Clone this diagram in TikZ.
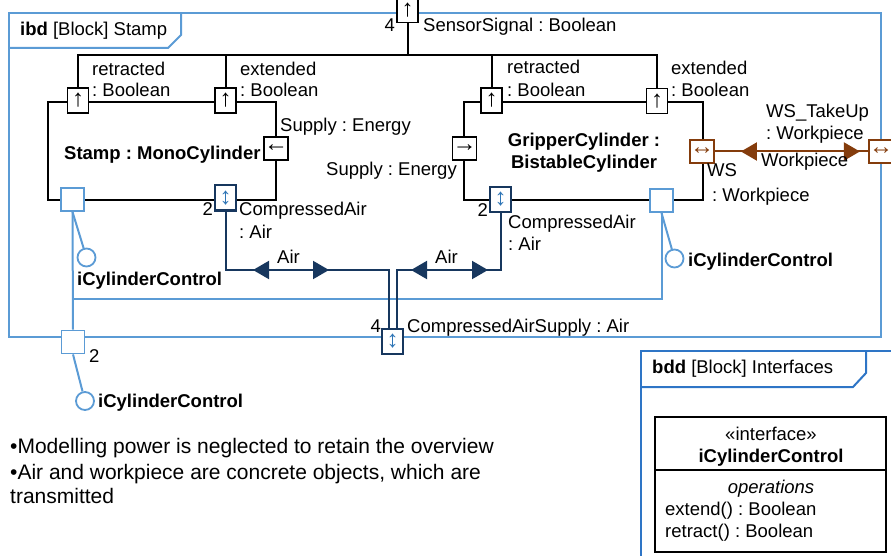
\documentclass[tikz,border=0pt]{standalone}
\usepackage{fontspec}
\setmainfont{Liberation Sans}
\usetikzlibrary{arrows.meta,decorations.markings}
\definecolor{ibdblue}{HTML}{5B9BD5}
\definecolor{bddblue}{HTML}{2E75C6}
\definecolor{airblue}{HTML}{17375E}
\definecolor{airsym}{HTML}{2E75B6}
\definecolor{wsbrown}{HTML}{843C0C}
\pgfdeclarelayer{back}
\pgfsetlayers{back,main}
\frenchspacing
\begin{document}
\frenchspacing
\begin{tikzpicture}[x=1pt,y=-1pt,
  font=\fontsize{18.5}{22}\selectfont,
  tri/.tip={Triangle[length=16pt,width=18pt]},
  wire/.style={line width=2pt,black},
  ctl/.style={line width=2pt,ibdblue},
  airc/.style={line width=2pt,airblue},
  wsc/.style={line width=2pt,wsbrown},
  blockbox/.style={draw,line width=2pt,inner sep=0pt},
  portbase/.style={draw,fill=white,line width=1.8pt,inner sep=0pt,
    font=\fontsize{24}{24}\selectfont},
  bport/.style={portbase,minimum width=21pt,minimum height=25pt},
  sport/.style={portbase,minimum width=22pt,minimum height=23pt},
  cport/.style={portbase,draw=ibdblue,minimum width=23pt,minimum height=23pt},
  aport/.style={portbase,draw=airblue,text=airsym,line width=2pt,
    minimum width=21pt,minimum height=25pt},
  wport/.style={portbase,draw=wsbrown,text=wsbrown,
    minimum width=22pt,minimum height=23pt},
  lolly/.style={circle,draw=ibdblue,fill=white,line width=1.8pt,
    minimum size=18pt,inner sep=0pt},
  txt/.style={anchor=base west,inner sep=0pt},
  txtr/.style={anchor=base east,inner sep=0pt},
  txtc/.style={anchor=base,inner sep=0pt},
  bold/.style={font=\fontsize{18.5}{22}\selectfont\bfseries},
  note/.style={txt,font=\fontsize{21}{25}\selectfont}]
\useasboundingbox (0,0) rectangle (891,556);

% part blocks
\node[blockbox,minimum width=228pt,minimum height=98pt] (stamp) at (162,151) {};
\node[blockbox,minimum width=239pt,minimum height=98pt] (grip) at (583.5,151) {};

% ports of the Stamp block
\node[bport] (sig) at (407.5,10) {↑};
\node[bport] (sr) at (78,100.5) {↑};
\node[bport] (se) at (225.5,100.5) {↑};
\node[sport] (ssup) at (276,148.5) {←};
\node[cport] (cs) at (72.5,199.5) {};
\node[aport] (sa) at (225.5,198) {↕};
% ports of the gripper
\node[bport] (gr) at (491.5,100.5) {↑};
\node[bport] (ge) at (657,101) {↑};
\node[sport] (gsup) at (464.5,148.5) {→};
\node[aport] (ga) at (500.5,199.5) {↕};
\node[cport] (cg) at (661.5,200.5) {};
\node[wport] (ws) at (702,151.5) {↔};
% boundary ports
\node[wport] (wst) at (881,151.5) {↔};
\node[aport] (cen) at (392.5,341.5) {↕};
\node[cport] (cf) at (73,342) {};

% provided interfaces
\node[lolly] (ls) at (86.5,257.5) {};
\node[lolly] (lf) at (85,401) {};
\node[lolly] (lg) at (674.5,258.5) {};

\coordinate (bus) at (407.5,55);
\coordinate (jn) at (72.5,299);
\coordinate (dv) at (0,470);

\begin{pgfonlayer}{back}
  % ibd frame
  \draw[ibdblue,line width=2pt] (9,13) rectangle (881,337);
  \draw[ibdblue,line width=2pt] (9,48) -- (168,48) -- (181,35) -- (181,13);
  % bdd frame
  \draw[bddblue,line width=2pt] (641,351) rectangle (905,575);
  \draw[bddblue,line width=2pt] (641,387) -- (853,387) -- (866,373) -- (866,351);

  % control connectors
  \draw[ctl] (cs.south) -- (cf.north);
  \draw[ctl] (cg.south) |- (jn);
  \draw[ctl] (cs.south) -- (ls);
  \draw[ctl] (cf.south) -- (lf);
  \draw[ctl] (cg.south) -- (lg);

  % air connectors
  \draw[airc,postaction={decorate},decoration={markings,
      mark=at position 86pt with {\arrowreversed{tri}},
      mark=at position 162pt with {\arrow{tri}}}]
    (sa.south) |- ([xshift=-3.5pt]cen.north |- 0,270) -- ([xshift=-3.5pt]cen.north);
  \draw[airc,postaction={decorate},decoration={markings,
      mark=at position 69.5pt with {\arrowreversed{tri}},
      mark=at position 146.5pt with {\arrow{tri}}}]
    (ga.south) |- ([xshift=4.5pt]cen.north |- 0,270) -- ([xshift=4.5pt]cen.north);

  % sensor signal bus
  \draw[wire] (sig.south) -- (bus);
  \draw[wire] (sr.north) |- (ge.north |- bus) -- (ge.north);
  \draw[wire] (se.north) -- (se.north |- bus);
  \draw[wire] (gr.north) -- (gr.north |- bus);

  % workpiece connector
  \draw[wsc,postaction={decorate},decoration={markings,
      mark=at position 26pt with {\arrowreversed{tri}},
      mark=at position 145pt with {\arrow{tri}}}]
    (ws.east) -- (wst.west);
\end{pgfonlayer}

% labels
\node[txt] (tibd) at (20,36) {\textbf{ibd} [Block] Stamp};
\node[txtr] (tsigm) at (395,32) {4};
\node[txt] (tsig) at (423,32) {SensorSignal : Boolean};
\node[txt] (tsr1) at (92,76) {retracted};
\node[txt] (tsr2) at (92,97) {: Boolean};
\node[txt] (tse1) at (240,76) {extended};
\node[txt] (tse2) at (240,97) {: Boolean};
\node[txt] (tssup) at (280,132) {Supply : Energy};
\node[txt,bold] (tstamp) at (64,160) {Stamp : MonoCylinder};
\node[txtr] (tsam) at (213,215) {2};
\node[txt] (tsa1) at (239,215) {CompressedAir};
\node[txt] (tsa2) at (239,238) {: Air};
\node[txt] (tair1) at (277,263) {Air};
\node[txt,bold] (tls) at (77,285) {iCylinderControl};

\node[txt] (tgr1) at (507,74) {retracted};
\node[txt] (tgr2) at (507,97) {: Boolean};
\node[txt] (tge1) at (671,75) {extended};
\node[txt] (tge2) at (671,97) {: Boolean};
\node[txt] (tgsup) at (326,176) {Supply : Energy};
\node[txtc,bold] (tgrip1) at (584,147) {GripperCylinder :};
\node[txtc,bold] (tgrip2) at (584,169) {BistableCylinder};
\node[txtr] (tgam) at (488,216) {2};
\node[txt] (tga1) at (508,228) {CompressedAir};
\node[txt] (tga2) at (508,250) {: Air};
\node[txt] (tair2) at (435,263) {Air};
\node[txt,bold] (tlg) at (688,266) {iCylinderControl};

\node[txt] (tws1) at (707,177) {WS};
\node[txt] (tws2) at (712,201) {: Workpiece};
\node[txt] (twst1) at (766,118) {WS\_TakeUp};
\node[txt] (twst2) at (766,140) {: Workpiece};
\node[txt] (twsc) at (761,167) {Workpiece};

\node[txtr] (tcenm) at (381,332) {4};
\node[txt] (tcen) at (407,332) {CompressedAirSupply : Air};
\node[txt] (tcfm) at (89,362) {2};
\node[txt,bold] (tlf) at (98,407) {iCylinderControl};

% notes
\node[note] (n1) at (10,453) {•Modelling power is neglected to retain the overview};
\node[note] (n2) at (10,479) {•Air and workpiece are concrete objects, which are};
\node[note] (n3) at (10,503) {transmitted};

% interface definition
\node[txt] (tbdd) at (652,373) {\textbf{bdd} [Block] Interfaces};
\node[draw,line width=1.8pt,minimum width=231pt,minimum height=135pt,inner sep=0pt]
  (ifc) at (770.5,484.5) {};
\draw[line width=1.8pt] (ifc.west |- dv) -- (ifc.east |- dv);
\node[txtc] (tst) at (771,440) {«interface»};
\node[txtc,bold] (tifc) at (771,462) {iCylinderControl};
\node[txtc] (tops) at (771,493) {\itshape operations};
\node[txt] (top1) at (665,515) {extend() : Boolean};
\node[txt] (top2) at (665,537) {retract() : Boolean};
\end{tikzpicture}
\end{document}
